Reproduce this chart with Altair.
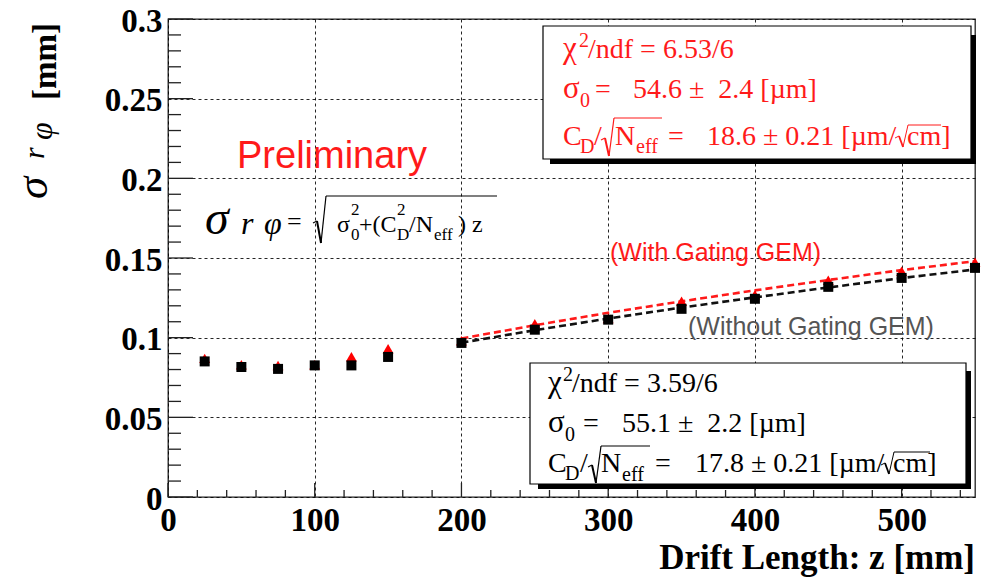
import altair as alt
import pandas as pd

# ---------------- data ----------------
z = [25, 50, 75, 100, 125, 150, 200, 250, 300, 350, 400, 450, 500, 550]
sigma_with_gem = [0.087, 0.083, 0.0825, 0.083, 0.088, 0.093, 0.098, 0.1087,
                  0.112, 0.1228, 0.1269, 0.136, 0.1417, 0.1473]
sigma_without_gem = [0.0851, 0.0816, 0.0804, 0.0826, 0.0826, 0.0879, 0.0967, 0.105,
                     0.1113, 0.1181, 0.1244, 0.1319, 0.1375, 0.1438]
z_fit = [200, 250, 300, 350, 400, 450, 500, 550]
fit_with_gem = [0.0995, 0.1078, 0.1156, 0.1228, 0.1297, 0.1362, 0.1424, 0.1480]
fit_without_gem = [0.0968, 0.1047, 0.1120, 0.1189, 0.1253, 0.1315, 0.1374, 0.1428]

x_major = [0, 100, 200, 300, 400, 500]
y_major = [0, 0.05, 0.1, 0.15, 0.2, 0.25, 0.3]
x_minor = [20, 40, 60, 80, 120, 140, 160, 180, 220, 240, 260, 280, 320, 340, 360, 380,
           420, 440, 460, 480, 520, 540]
y_minor = [0.01, 0.02, 0.03, 0.04, 0.06, 0.07, 0.08, 0.09, 0.11, 0.12, 0.13, 0.14,
           0.16, 0.17, 0.18, 0.19, 0.21, 0.22, 0.23, 0.24, 0.26, 0.27, 0.28, 0.29]

# ---------------- layout ----------------
W, H = 807, 478
OX, OY = 168, 19          # page position of the plot origin
RED = "#ff1a1a"
SERIF = "Liberation Serif"
SANS = "Liberation Sans"

xs = alt.Scale(domain=[0, 550], nice=False, zero=False)
ys = alt.Scale(domain=[0, 0.3], nice=False)

lab = dict(labelFont=SERIF, labelFontWeight="bold", labelFontSize=33, labelColor="black",
           ticks=False, domain=False, grid=True, gridDash=[3, 3], gridColor="black",
           gridOpacity=0.85, gridWidth=1, title=None, labelFlush=False)
xaxis = alt.Axis(values=x_major, format="d", labelPadding=7, **lab)
yaxis = alt.Axis(values=y_major, format="~g", labelPadding=6, labelOffset=2, **lab)

X = alt.X("z:Q", scale=xs, axis=xaxis)
Y = alt.Y("s:Q", scale=ys, axis=yaxis)

df_red = pd.DataFrame({"z": z, "s": sigma_with_gem})
df_blk = pd.DataFrame({"z": z, "s": sigma_without_gem})
df_fit_red = pd.DataFrame({"z": z_fit, "s": fit_with_gem})
df_fit_blk = pd.DataFrame({"z": z_fit, "s": fit_without_gem})

layers = []

# inward axis ticks
layers.append(alt.Chart(pd.DataFrame({"s": y_major})).mark_rule(color="#222", strokeWidth=1.3)
              .encode(y=Y, x=alt.value(0), x2=alt.value(25)))
layers.append(alt.Chart(pd.DataFrame({"s": y_minor})).mark_rule(color="#222", strokeWidth=1.3)
              .encode(y=Y, x=alt.value(0), x2=alt.value(13)))
layers.append(alt.Chart(pd.DataFrame({"z": x_major})).mark_rule(color="#222", strokeWidth=1.3)
              .encode(x=X, y=alt.value(H), y2=alt.value(H - 14)))
layers.append(alt.Chart(pd.DataFrame({"z": x_minor})).mark_rule(color="#222", strokeWidth=1.3)
              .encode(x=X, y=alt.value(H), y2=alt.value(H - 7)))

one = pd.DataFrame({"a": [0]})


def txt(s, x, y, size, color="black", font=SERIF, style="normal", weight="normal",
        align="left", baseline="alphabetic", angle=0):
    return alt.Chart(one).mark_text(text=s, fontSize=size, color=color, font=font,
                                    fontStyle=style, fontWeight=weight, align=align,
                                    baseline=baseline, angle=angle).encode(
        x=alt.value(x - OX), y=alt.value(y - OY))


def seg(x1, y1, x2, y2, color="black", w=1.2):
    return alt.Chart(one).mark_rule(color=color, strokeWidth=w).encode(
        x=alt.value(x1 - OX), y=alt.value(y1 - OY), x2=alt.value(x2 - OX), y2=alt.value(y2 - OY))


def rect(x1, y1, x2, y2, fill, stroke=None, w=1.0):
    kw = dict(fill=fill, opacity=1)
    if stroke:
        kw.update(stroke=stroke, strokeWidth=w)
    return alt.Chart(one).mark_rect(**kw).encode(
        x=alt.value(x1 - OX), y=alt.value(y1 - OY), x2=alt.value(x2 - OX), y2=alt.value(y2 - OY))


def radical(x0, ymid, ybot, ytop, xend, color="black", w=1.2):
    return [seg(x0, ymid + 2, x0 + 4, ymid, color, w),
            seg(x0 + 4, ymid, x0 + 8, ybot, color, w + 0.8),
            seg(x0 + 8, ybot, x0 + 13, ytop, color, w),
            seg(x0 + 13, ytop, xend, ytop, color, w)]


# stat boxes (shadow + white box)
layers.append(rect(550, 35, 976, 164, "black"))
layers.append(rect(543, 26, 971, 159, "white", "black", 1.2))
layers.append(rect(538, 371, 971, 489, "black"))
layers.append(rect(530, 363, 966, 484, "white", "black", 1.2))

# data layers
layers.append(alt.Chart(df_fit_red).mark_line(color=RED, strokeDash=[7, 4], strokeWidth=2.6)
              .encode(x=X, y=Y))
layers.append(alt.Chart(df_fit_blk).mark_line(color="#111", strokeDash=[7, 4], strokeWidth=2.6)
              .encode(x=X, y=Y))
layers.append(alt.Chart(df_red).mark_point(shape="triangle-up", filled=True, color="#ff0000",
                                           size=120, opacity=1).encode(x=X, y=Y))
layers.append(alt.Chart(df_blk).mark_square(color="black", size=100, opacity=1)
              .encode(x=X, y=Y))

# red stat box text
S, SS, SG = 28, 20, 31
layers += [
    txt("χ", 563, 58, SG, RED), txt("2", 579, 47, SS, RED), txt("/ndf = 6.53/6", 588, 58, S, RED),
    txt("σ", 563, 98, SG, RED), txt("0", 580, 107, SS, RED), txt("=", 595, 98, S, RED),
    txt("54.6 ±\u00a0 2.4 [µm]", 633, 98, S, RED),
    txt("C", 563, 145, S, RED), txt("D", 580, 153, SS, RED), txt("/", 594, 145, S, RED),
    txt("N", 615, 145, S, RED), txt("eff", 636, 153, SS, RED), txt("=", 668, 145, S, RED),
    txt("18.6 ± 0.21 [µm/", 707, 145, S, RED), txt("cm]", 907, 145, S, RED),
]
layers += radical(601, 138, 156, 118, 662, RED)
layers += radical(895, 136, 147, 125, 941, RED, 1.0)

# black stat box text
layers += [
    txt("χ", 548, 392, SG), txt("2", 563, 381, SS), txt("/ndf = 3.59/6", 572, 392, S),
    txt("σ", 548, 432, SG), txt("0", 565, 441, SS), txt("=", 583, 432, S),
    txt("55.1 ±\u00a0 2.2 [µm]", 622, 432, S),
    txt("C", 548, 472, S), txt("D", 565, 480, SS), txt("/", 580, 472, S),
    txt("N", 601, 472, S), txt("eff", 622, 481, SS), txt("=", 655, 472, S),
    txt("17.8 ± 0.21 [µm/", 695, 472, S), txt("cm]", 893, 472, S),
]
layers += radical(588, 465, 483, 446, 650)
layers += radical(881, 463, 474, 452, 930, "black", 1.0)

# formula
F, FS = 24, 17
layers += [
    txt("σ", 205, 234, 48, style="italic"),
    txt("r", 241, 234, 32, style="italic"),
    txt("φ", 264, 234, 32, style="italic"),
    txt("=", 287, 230, F + 2),
    txt("σ", 337, 232, F), txt("2", 351, 215, FS), txt("0", 351, 240, FS),
    txt("+(C", 359, 232, F), txt("2", 397, 215, FS), txt("D", 397, 240, FS),
    txt("/N", 409, 232, F), txt("eff", 434, 240, FS), txt(")\u00a0z", 458, 232, F),
]
layers += radical(313, 221, 243, 196, 497)

# labels
layers += [
    txt("Preliminary", 237, 168, 38, RED, font=SANS),
    txt("(With Gating GEM)", 610, 261, 25, RED, font=SANS),
    txt("(Without Gating GEM)", 688, 335, 25, "#555555", font=SANS),
    txt("Drift Length: z [mm]", 975, 569, 35, weight="bold", align="right"),
    # y title (rotated)
    txt("[mm]", 56, 100, 33, weight="bold", angle=270),
    txt("φ", 52, 140, 32, style="italic", angle=270),
    txt("r", 44, 159, 30, style="italic", angle=270),
    txt("σ", 47, 199, 45, style="italic", angle=270),
]

chart = alt.layer(*layers).properties(
    width=W, height=H,
    autosize=alt.AutoSizeParams(type="none"),
    padding={"left": OX - 8, "top": OY - 8, "right": 6, "bottom": 86},
    background="white",
).configure_view(stroke="#222", strokeWidth=1.3)

chart.save("out.html", embed_options={"renderer": "svg", "actions": False})
